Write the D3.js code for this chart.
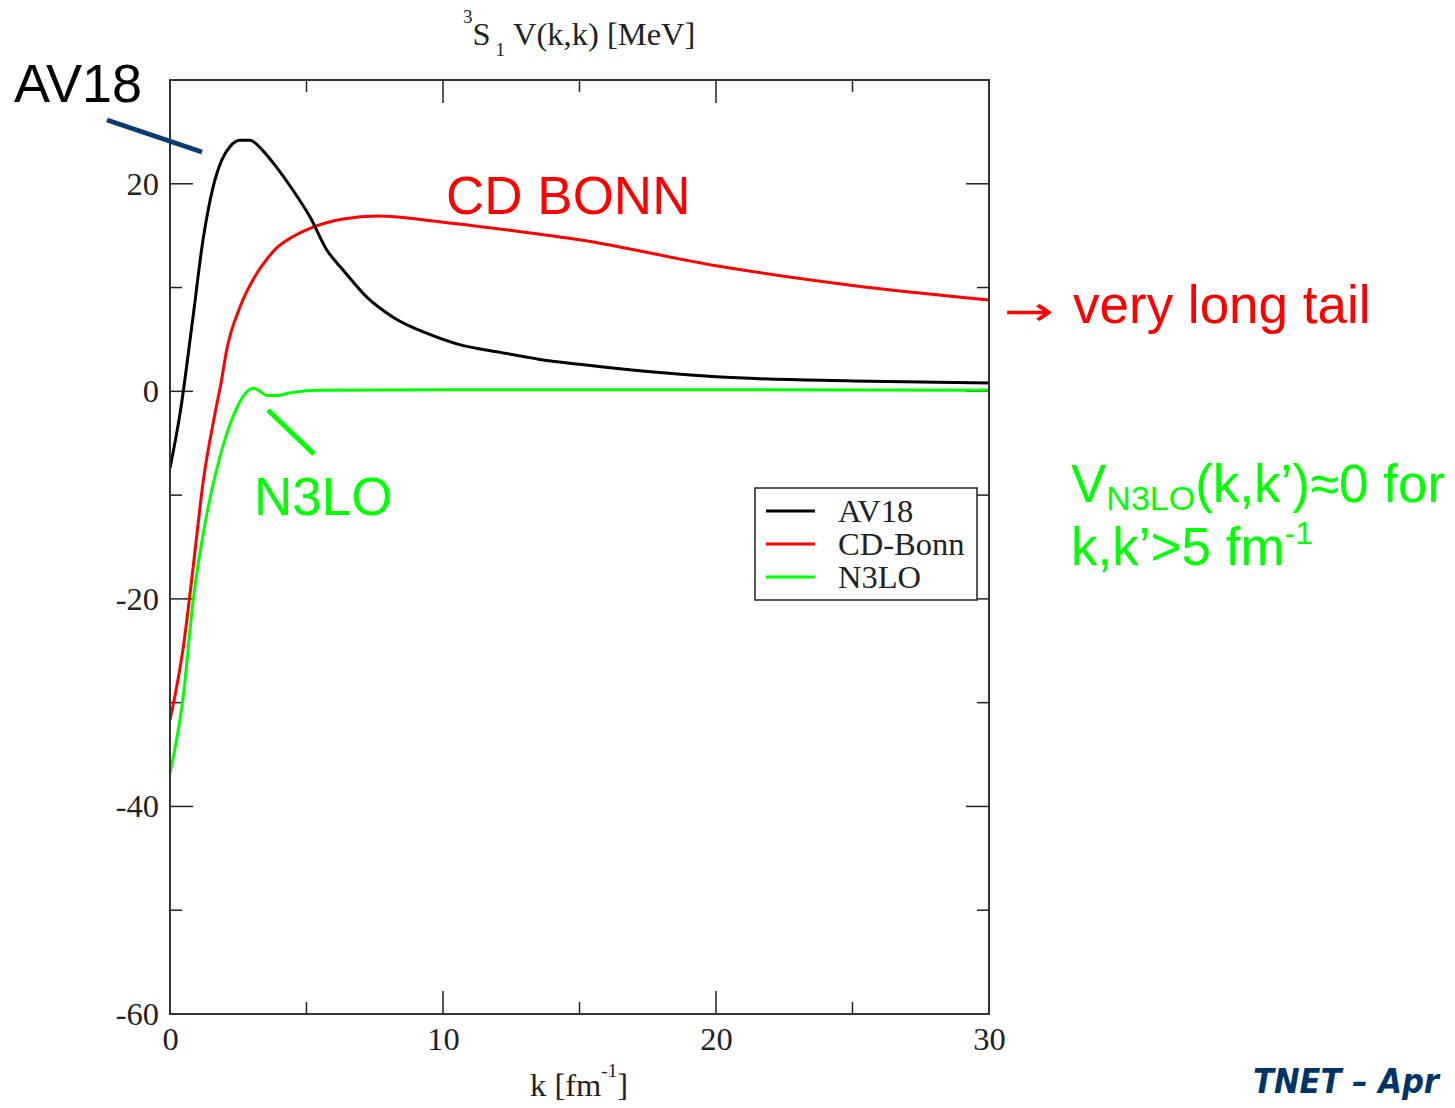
<!DOCTYPE html>
<html><head><meta charset="utf-8">
<script src="https://cdn.jsdelivr.net/npm/d3@7"></script>
<style>body{margin:0;background:#fff;overflow:hidden}</style>
</head><body>
<svg id="c" width="1455" height="1108"></svg>
<script>
const av18K = [0, 0.37, 0.84, 1.21, 1.58, 1.9, 2.2, 2.56, 2.93, 3.4, 3.9, 4.5, 5.13, 5.75, 6.34, 7.2, 8.2, 9.4, 10.6, 12, 13.5, 15, 17.5, 20, 25, 30];
const av18V = [-7.4, -2.1, 7.1, 14.6, 19.7, 22.3, 23.6, 24.2, 24.2, 23.2, 21.6, 19.4, 16.8, 13.6, 11.7, 9.1, 7.1, 5.6, 4.5, 3.8, 3.1, 2.6, 1.9, 1.4, 1.0, 0.8];
const bonnK = [0, 0.49, 0.85, 1.22, 1.65, 1.89, 2.07, 2.56, 3.19, 3.54, 3.9, 4.5, 5.13, 6.34, 7.6, 10, 12.5, 15, 20, 25, 30];
const bonnV = [-31.7, -24.6, -16.9, -8.6, -2.1, 1.1, 3.9, 8.1, 11.4, 12.7, 13.8, 14.9, 15.7, 16.6, 16.9, 16.3, 15.5, 14.6, 12.1, 10.2, 8.8];
const n3loK = [0, 0.48, 0.85, 1.35, 1.83, 2.3, 2.8, 3.05, 3.3, 3.55, 3.9, 4.5, 5.5, 10, 20, 30];
const n3loV = [-36.8, -29.5, -20.1, -11.8, -6.3, -2.5, -0.1, 0.3, 0.0, -0.4, -0.4, -0.1, 0.1, 0.15, 0.15, 0.1];
const seriesNames = ["AV18", "CD-Bonn", "N3LO"];
const seriesColors = ["#000000", "#ff0000", "#00ff00"];
const xTicks = [0, 10, 20, 30];
const yTicks = [-60, -40, -20, 0, 20];

const svg = d3.select("#c");
const L = 170, R = 989, T = 80, B = 1014;
const x = d3.scaleLinear().domain([0, 30]).range([L, R]);
const y = d3.scaleLinear().domain([-60, 30]).range([B, T]);
const serif = "'Liberation Serif','Times New Roman',serif";
const sans = "'Liberation Sans',Arial,sans-serif";
const FS = 32.5;

svg.append("defs").append("clipPath").attr("id","clip")
  .append("rect").attr("x",L).attr("y",T).attr("width",R-L).attr("height",B-T);

// ticks (inward, mirrored)
const tk = svg.append("g").attr("stroke","#222").attr("stroke-width",1.5);
d3.range(0, 31, 5).forEach(v => {
  const len = v % 10 === 0 ? 23 : 12;
  tk.append("line").attr("x1",x(v)).attr("x2",x(v)).attr("y1",B).attr("y2",B-len);
  tk.append("line").attr("x1",x(v)).attr("x2",x(v)).attr("y1",T).attr("y2",T+len);
});
d3.range(-60, 31, 10).forEach(v => {
  const len = v % 20 === 0 ? 23 : 12;
  tk.append("line").attr("y1",y(v)).attr("y2",y(v)).attr("x1",L).attr("x2",L+len);
  tk.append("line").attr("y1",y(v)).attr("y2",y(v)).attr("x1",R).attr("x2",R-len);
});

// axis labels via d3 axes (no tick lines)
const fmt = d => String(d);
const xa = svg.append("g").attr("transform",`translate(0,${B})`)
  .call(d3.axisBottom(x).tickValues(xTicks).tickFormat(fmt).tickSize(0).tickPadding(10));
xa.select(".domain").remove();
xa.selectAll("text").attr("font-family",serif).attr("font-size",FS).attr("fill","#222").attr("dy","0.8em");
const ya = svg.append("g").attr("transform",`translate(${L},0)`)
  .call(d3.axisLeft(y).tickValues(yTicks).tickFormat(fmt).tickSize(0).tickPadding(11));
ya.select(".domain").remove();
ya.selectAll("text").attr("font-family",serif).attr("font-size",FS).attr("fill","#222");

// curves
const line = d3.line().x(d => x(d[0])).y(d => y(d[1])).curve(d3.curveMonotoneX);
const data = [
  av18K.map((k,i)=>[k, av18V[i]]),
  bonnK.map((k,i)=>[k, bonnV[i]]),
  n3loK.map((k,i)=>[k, n3loV[i]])
];
const cg = svg.append("g").attr("clip-path","url(#clip)");
[2,1,0].forEach(i => {
  cg.append("path").attr("d", line(data[i])).attr("fill","none")
    .attr("stroke", seriesColors[i]).attr("stroke-width",3);
});

// frame
svg.append("rect").attr("x",L).attr("y",T).attr("width",R-L).attr("height",B-T)
  .attr("fill","none").attr("stroke","#333").attr("stroke-width",2);

// legend
const lg = svg.append("g");
lg.append("rect").attr("x",755).attr("y",488).attr("width",222).attr("height",112)
  .attr("fill","#fff").attr("stroke","#222").attr("stroke-width",1.5);
seriesNames.forEach((n,i) => {
  const yy = 511 + i*33;
  lg.append("line").attr("x1",766).attr("x2",815).attr("y1",yy).attr("y2",yy)
    .attr("stroke",seriesColors[i]).attr("stroke-width",3);
  lg.append("text").attr("x",838).attr("y",yy+11).text(n)
    .attr("font-family",serif).attr("font-size",FS).attr("fill","#222");
});

// title
const tt = svg.append("text").attr("x",463).attr("y",45).attr("font-family",serif).attr("fill","#222");
tt.append("tspan").attr("font-size",19).attr("dy",-22).text("3");
tt.append("tspan").attr("font-size",FS).attr("dy",22).text("S");
tt.append("tspan").attr("font-size",19).attr("dy",11).attr("dx",5).text("1");
tt.append("tspan").attr("font-size",FS).attr("dy",-11).attr("dx",8).text("V(k,k) [MeV]");

// x label
const xl = svg.append("text").attr("x",530).attr("y",1096).attr("font-family",serif).attr("fill","#222");
xl.append("tspan").attr("font-size",FS).text("k [fm");
xl.append("tspan").attr("font-size",19).attr("dy",-19).text("-1");
xl.append("tspan").attr("font-size",FS).attr("dy",19).text("]");

// annotations
svg.append("text").attr("x",14).attr("y",102).text("AV18")
  .attr("font-family",sans).attr("font-size",54).attr("fill","#000");
svg.append("line").attr("x1",107).attr("y1",120).attr("x2",202).attr("y2",152)
  .attr("stroke","#0a3a6e").attr("stroke-width",5);
svg.append("text").attr("x",446).attr("y",214).text("CD BONN")
  .attr("font-family",sans).attr("font-size",53).attr("fill","#ff0000");
svg.append("text").attr("transform","translate(1004,325) scale(1.5,1)").text("\u2192")
  .attr("font-family","'DejaVu Sans',sans-serif").attr("font-size",40).attr("fill","#ff0000");
svg.append("text").attr("x",1073).attr("y",323).text("very long tail")
  .attr("font-family",sans).attr("font-size",53).attr("fill","#ff0000");
svg.append("text").attr("x",254).attr("y",515).text("N3LO")
  .attr("font-family",sans).attr("font-size",53).attr("fill","#00ff00");
svg.append("line").attr("x1",268).attr("y1",410).attr("x2",314).attr("y2",454)
  .attr("stroke","#00ff00").attr("stroke-width",5);
const g1 = svg.append("text").attr("x",1071).attr("y",502).attr("font-family",sans).attr("fill","#00ff00");
g1.append("tspan").attr("font-size",53).text("V");
g1.append("tspan").attr("font-size",34).attr("dy",8).text("N3LO");
g1.append("tspan").attr("font-size",53).attr("dy",-8).text("(k,k\u2019)\u22480 for");
const g2 = svg.append("text").attr("x",1071).attr("y",565).attr("font-family",sans).attr("fill","#00ff00");
g2.append("tspan").attr("font-size",53).text("k,k\u2019>5 fm");
g2.append("tspan").attr("font-size",32).attr("dy",-21).text("-1");

// footer
svg.append("text").attr("x",1253).attr("y",1093).text("TNET \u2013 Apr")
  .attr("font-family","'DejaVu Sans',sans-serif").attr("font-weight","bold").attr("font-style","italic")
  .attr("font-size",33).attr("textLength",186).attr("lengthAdjust","spacingAndGlyphs")
  .attr("fill","#003366");
</script>
</body></html>
